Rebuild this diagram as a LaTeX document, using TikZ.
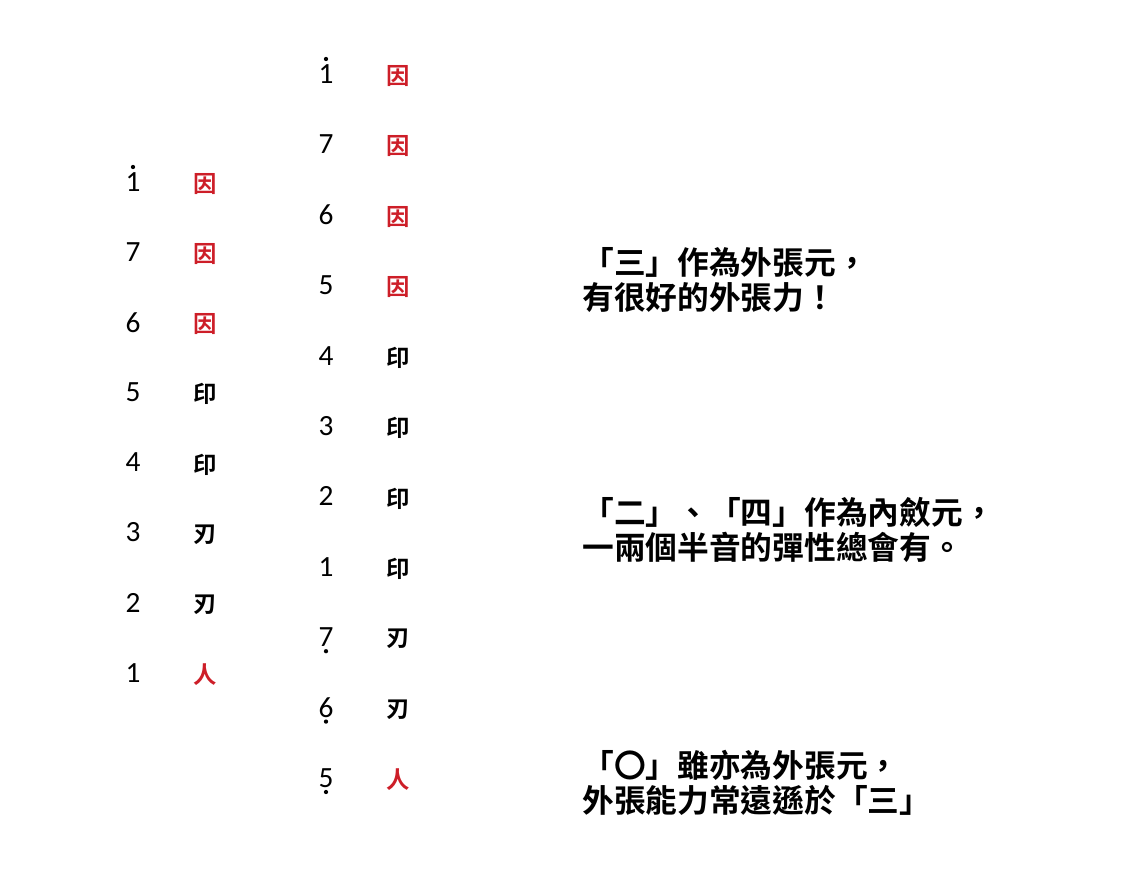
\documentclass[tikz,border=0pt]{standalone}
\usepackage{fontspec}
\setmainfont{Carlito}
\newfontfamily\cjkfont{Noto Sans CJK TC}
\newfontfamily\cjkbold{Noto Sans CJK TC Bold}
\definecolor{stampred}{RGB}{205,30,40}
\begin{document}
\begin{tikzpicture}[x=0.75pt,y=-0.75pt,
  digit/.style={inner sep=0pt,font=\fontsize{22}{24}\selectfont},
  sign/.style={inner sep=0pt,font=\cjkbold\fontsize{17.5}{19}\selectfont},
  redsign/.style={sign,text=stampred},
  note/.style={inner sep=0pt,anchor=west,align=left,font=\cjkbold\fontsize{23.8}{26.5}\selectfont},
  dotfill/.style={fill=black}]
\useasboundingbox (0,0) rectangle (1147,894);
% left column
\foreach \d/\c/\s [count=\i from 0] in {1/因/redsign,7/因/redsign,6/因/redsign,5/印/sign,4/印/sign,3/刃/sign,2/刃/sign,1/人/redsign}{
  \node[digit] (ld\i) at (133,{182+70.1*\i}) {\d};
  \node[\s] (lc\i) at (205,{184+70.1*\i}) {\c};
}
\fill[dotfill] ([yshift=11.25pt]ld0.center) circle (1.6pt);
% middle column
\foreach \d/\c/\s [count=\i from 0] in {1/因/redsign,7/因/redsign,6/因/redsign,5/因/redsign,4/印/sign,3/印/sign,2/印/sign,1/印/sign,7/刃/sign,6/刃/sign,5/人/redsign}{
  \node[digit] (md\i) at (326,{74+70.4*\i}) {\d};
  \node[\s] (mc\i) at (398,{76+70.4*\i}) {\c};
}
\fill[dotfill] ([yshift=11.25pt]md0.center) circle (1.6pt);
\fill[dotfill] ([yshift=-10.5pt]md8.center) circle (1.6pt);
\fill[dotfill] ([yshift=-10.5pt]md9.center) circle (1.6pt);
\fill[dotfill] ([yshift=-10.5pt]md10.center) circle (1.6pt);
% notes
\node[note] (n1) at (582,280) {「三」作為外張元，\\有很好的外張力！};
\node[note] (n2) at (582,530) {「二」、「四」作為內斂元，\\一兩個半音的彈性總會有。};
\node[note] (n3) at (582,783) {「〇」雖亦為外張元，\\外張能力常遠遜於「三」};
\end{tikzpicture}
\end{document}
